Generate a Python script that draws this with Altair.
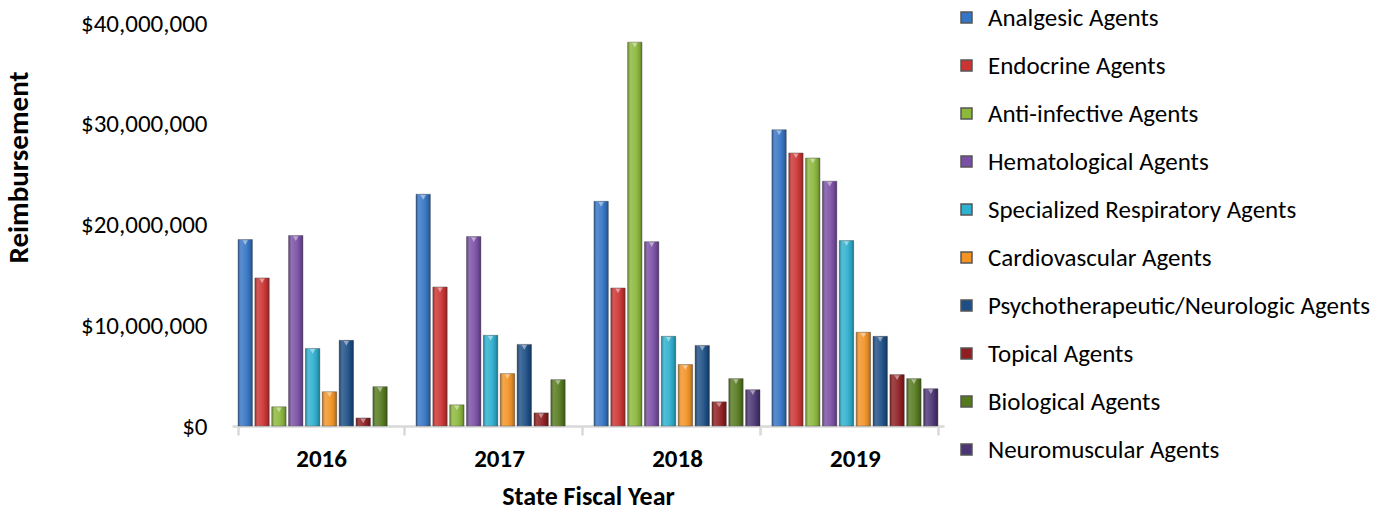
import altair as alt
import pandas as pd

years = ["2016", "2017", "2018", "2019"]
categories = [
    "Analgesic Agents",
    "Endocrine Agents",
    "Anti-infective Agents",
    "Hematological Agents",
    "Specialized Respiratory Agents",
    "Cardiovascular Agents",
    "Psychotherapeutic/Neurologic Agents",
    "Topical Agents",
    "Biological Agents",
    "Neuromuscular Agents",
]
colors = ["#3575C5", "#CC3333", "#8CB83C", "#7A4FA6", "#2EB0CF",
          "#F39325", "#1D4F86", "#8E1E20", "#557A1E", "#4B3574"]

# values in millions of dollars (None = no bar)
analgesic = [18.5, 23.0, 22.3, 29.4]
endocrine = [14.7, 13.8, 13.7, 27.1]
anti_infective = [1.9, 2.1, 38.1, 26.6]
hematological = [18.9, 18.8, 18.3, 24.3]
respiratory = [7.7, 9.0, 8.9, 18.4]
cardiovascular = [3.4, 5.2, 6.1, 9.3]
psycho = [8.5, 8.1, 8.0, 8.9]
topical = [0.8, 1.3, 2.4, 5.1]
biological = [3.9, 4.6, 4.7, 4.7]
neuromuscular = [None, None, 3.6, 3.7]

series = [analgesic, endocrine, anti_infective, hematological, respiratory,
          cardiovascular, psycho, topical, biological, neuromuscular]

rows = []
for cat, vals in zip(categories, series):
    for yr, v in zip(years, vals):
        if v is not None:
            rows.append({"year": yr, "category": cat, "value": v * 1e6})
df = pd.DataFrame(rows)

FONT = "Carlito, Lato, sans-serif"

x = alt.X(
    "year:N",
    scale=alt.Scale(domain=years, paddingInner=0.067, paddingOuter=0.034),
    axis=alt.Axis(
        title="State Fiscal Year", labelAngle=0, labelFont=FONT, labelFontSize=25,
        labelFontWeight="bold", labelColor="#000", labelPadding=11,
        titleFont=FONT, titleFontSize=26, titleFontWeight="bold", titleColor="#000",
        titleX=356, titleY=78, titleBaseline="alphabetic",
        domainColor="#d9d9d9", domainWidth=2.5, tickColor="#d9d9d9",
        tickWidth=2.5, tickSize=9, tickBand="extent",
    ),
)
xo = alt.XOffset(
    "category:N",
    sort=categories,
    scale=alt.Scale(domain=categories, paddingInner=0.15, paddingOuter=0),
)
y = alt.Y(
    "value:Q",
    scale=alt.Scale(domain=[0, 40e6]),
    axis=alt.Axis(
        values=[0, 1e7, 2e7, 3e7, 4e7], format="$,.0f", grid=False, domain=False,
        ticks=False, labelPadding=25, labelFont=FONT, labelFontSize=25, labelColor="#000",
        title="Reimbursement", titleFont=FONT, titleFontSize=29, titleFontWeight="bold",
        titleColor="#000", titleX=-214, titleY=144, titleAngle=270,
        titleBaseline="middle", titleAlign="center",
    ),
)

base = alt.Chart(df).encode(x=x, xOffset=xo, y=y)

bars = base.mark_bar(stroke="#555555", strokeOpacity=0.45, strokeWidth=1).encode(
    color=alt.Color(
        "category:N",
        scale=alt.Scale(domain=categories, range=colors),
        legend=alt.Legend(
            title=None, orient="none", legendX=722, legendY=-18,
            symbolType="square", symbolSize=121, labelFont=FONT, labelFontSize=25,
            labelColor="#000", rowPadding=22, labelOffset=9, labelLimit=500,
        ),
    )
)

shine = base.mark_bar(
    fill=alt.LinearGradient(
        gradient="linear", x1=0, x2=1, y1=0, y2=0,
        stops=[
            alt.GradientStop(color="rgba(0,0,0,0.30)", offset=0),
            alt.GradientStop(color="rgba(255,255,255,0.18)", offset=0.2),
            alt.GradientStop(color="rgba(255,255,255,0.08)", offset=0.55),
            alt.GradientStop(color="rgba(0,0,0,0.08)", offset=0.8),
            alt.GradientStop(color="rgba(0,0,0,0.32)", offset=1),
        ],
    )
)

tips = base.mark_point(
    shape="triangle-down", filled=True, size=30, color="white", opacity=0.45, yOffset=3
)

chart = alt.layer(bars, shine, tips).properties(
    width=712, height=403,
    padding={"left": 232, "top": 23, "right": 451, "bottom": 84},
    autosize="none",
).configure_view(stroke=None)

chart.save("out.html", embed_options={"renderer": "svg", "actions": False})
